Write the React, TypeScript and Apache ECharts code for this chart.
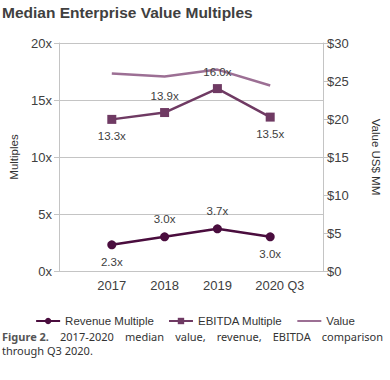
import React, { useEffect, useRef } from "react";
import * as echarts from "echarts";

const years = [2017, 2018, 2019, 2020];
const yearLabels = ["2017", "2018", "2019", "2020 Q3"];
const revenueMultiple = [2.3, 3.0, 3.7, 3.0];
const ebitdaMultiple = [13.3, 13.9, 16.0, 13.5];
const valueUSD = [26.0, 25.6, 26.5, 24.4];
const leftTicks = ["0x", "5x", "10x", "15x", "20x"];
const rightTicks = ["$0", "$5", "$10", "$15", "$20", "$25", "$30"];

const revenueLabelPos = ["bottom", "top", "top", "bottom"];
const ebitdaLabelPos = ["bottom", "top", "top", "bottom"];

const captionLine1 = ["Figure 2.", "2017-2020", "median", "value,", "revenue,", "EBITDA", "comparison"];
const captionLine2 = "through Q3 2020.";

const FONT = "Arial, 'Liberation Sans', sans-serif";
const CAP_FAMILY = "Noto Sans";
const CAP = "'Noto Sans', 'DejaVu Sans', sans-serif";
const CAP_SIZE = 11;

function measure(text: string, font: string): number {
  const c = document.createElement("canvas");
  const ctx = c.getContext("2d");
  if (!ctx) return text.length * 6;
  ctx.font = font;
  return ctx.measureText(text).width;
}

export default function App() {
  const ref = useRef<HTMLDivElement>(null);
  useEffect(() => {
    if (!ref.current) return;
    const chart = echarts.init(ref.current, undefined, { renderer: "svg" });
    const labelStyle = { fontFamily: FONT, fontSize: 11.5, color: "#404040" };

    // justify first caption line between x=2 and x=383
    const capLeft = 2;
    const capRight = 383;
    const widths = captionLine1.map((w, i) =>
      measure(w, (i === 0 ? "bold " : "") + CAP_SIZE + "px '" + CAP_FAMILY + "'")
    );
    const total = widths.reduce((a, b) => a + b, 0);
    const gap = (capRight - capLeft - total) / (captionLine1.length - 1);
    let cx = capLeft;
    const captionWords = captionLine1.map((t, i) => {
      const item = { t, x: cx, bold: i === 0 };
      cx += widths[i] + gap;
      return item;
    });

    chart.setOption({
      animation: false,
      title: {
        text: "Median Enterprise Value Multiples",
        left: 2,
        top: 4,
        padding: 0,
        textStyle: { fontFamily: FONT, fontSize: 15.5, fontWeight: "bold", color: "#404040" },
      },
      legend: {
        top: 310,
        left: "center",
        itemWidth: 24,
        itemHeight: 8,
        itemGap: 14,
        textStyle: { fontFamily: FONT, fontSize: 11.5, color: "#333" },
        data: [
          "Revenue Multiple",
          "EBITDA Multiple",
          { name: "Value", itemStyle: { opacity: 0 } },
        ],
      },
      grid: { left: 55, right: 67, top: 43, bottom: 109 },
      xAxis: {
        type: "value",
        min: 2016,
        max: 2021,
        interval: 1,
        axisLine: { show: false },
        axisTick: { show: false },
        splitLine: { show: false },
        axisLabel: {
          margin: 8,
          fontFamily: FONT,
          fontSize: 13,
          color: "#404040",
          formatter: (v: number) => {
            const i = years.indexOf(v);
            if (i < 0) return "";
            const s = yearLabels[i];
            if (s.indexOf(" ") > 0) {
              const [a, b] = s.split(" ");
              return "{pad|}" + a + "{q| " + b + "}";
            }
            return s;
          },
          rich: {
            pad: { width: 19 },
            q: { fontFamily: FONT, fontSize: 12.5, color: "#404040" },
          },
        },
      },
      yAxis: [
        {
          type: "value",
          min: 0,
          max: 20,
          interval: 5,
          name: "Multiples",
          nameLocation: "middle",
          nameGap: 39,
          nameTextStyle: { fontFamily: FONT, fontSize: 11.5, color: "#333" },
          axisLine: { show: true, lineStyle: { color: "#c4c4c4" } },
          axisTick: { show: true, length: 5, lineStyle: { color: "#c4c4c4" } },
          splitLine: { lineStyle: { color: "#c4c4c4" } },
          axisLabel: {
            margin: 7,
            fontFamily: FONT,
            fontSize: 13,
            color: "#404040",
            formatter: (v: number) => leftTicks[v / 5],
          },
        },
        {
          type: "value",
          min: 0,
          max: 30,
          interval: 5,
          name: "Value US$ MM",
          nameLocation: "middle",
          nameGap: 47,
          nameRotate: -90,
          nameTextStyle: { fontFamily: FONT, fontSize: 11.5, color: "#333" },
          axisLine: { show: true, lineStyle: { color: "#c4c4c4" } },
          axisTick: { show: true, length: 5, lineStyle: { color: "#c4c4c4" } },
          splitLine: { show: false },
          axisLabel: {
            margin: 4,
            fontFamily: FONT,
            fontSize: 13,
            color: "#404040",
            formatter: (v: number) => rightTicks[v / 5],
          },
        },
      ],
      series: [
        {
          name: "Revenue Multiple",
          type: "line",
          yAxisIndex: 0,
          symbol: "circle",
          symbolSize: 9,
          color: "#4a0d3e",
          lineStyle: { width: 2.5, color: "#4a0d3e" },
          itemStyle: { color: "#4a0d3e" },
          data: years.map((y, i) => ({
            value: [y, revenueMultiple[i]],
            label: { position: revenueLabelPos[i] },
          })),
          label: {
            show: true,
            distance: 7,
            ...labelStyle,
            formatter: (p: any) => p.value[1].toFixed(1) + "x",
          },
          z: 4,
        },
        {
          name: "EBITDA Multiple",
          type: "line",
          yAxisIndex: 0,
          symbol: "rect",
          symbolSize: 9,
          color: "#6f3a63",
          lineStyle: { width: 2.5, color: "#6f3a63" },
          itemStyle: { color: "#6f3a63" },
          data: years.map((y, i) => ({
            value: [y, ebitdaMultiple[i]],
            label: { position: ebitdaLabelPos[i] },
          })),
          label: {
            show: true,
            distance: 6,
            ...labelStyle,
            formatter: (p: any) => p.value[1].toFixed(1) + "x",
          },
          z: 3,
        },
        {
          name: "Value",
          type: "line",
          yAxisIndex: 1,
          symbol: "none",
          color: "#9c6f94",
          lineStyle: { width: 2.5, color: "#9c6f94" },
          data: years.map((y, i) => [y, valueUSD[i]]),
          z: 2,
        },
      ],
      graphic: [
        ...captionWords.map((w) => ({
          type: "text",
          x: w.x,
          y: 331,
          style: {
            text: w.t,
            fontFamily: CAP,
            fontSize: CAP_SIZE,
            fontWeight: w.bold ? "bold" : "normal",
            fill: w.bold ? "#555" : "#333",
          },
        })),
        {
          type: "text",
          x: 2,
          y: 345,
          style: { text: captionLine2, fontFamily: CAP, fontSize: CAP_SIZE, fill: "#333" },
        },
      ],
    });
    return () => chart.dispose();
  }, []);
  return (
    <div
      ref={ref}
      style={{ position: "absolute", left: 0, top: 0, width: 390, height: 380, background: "#fff" }}
    />
  );
}
